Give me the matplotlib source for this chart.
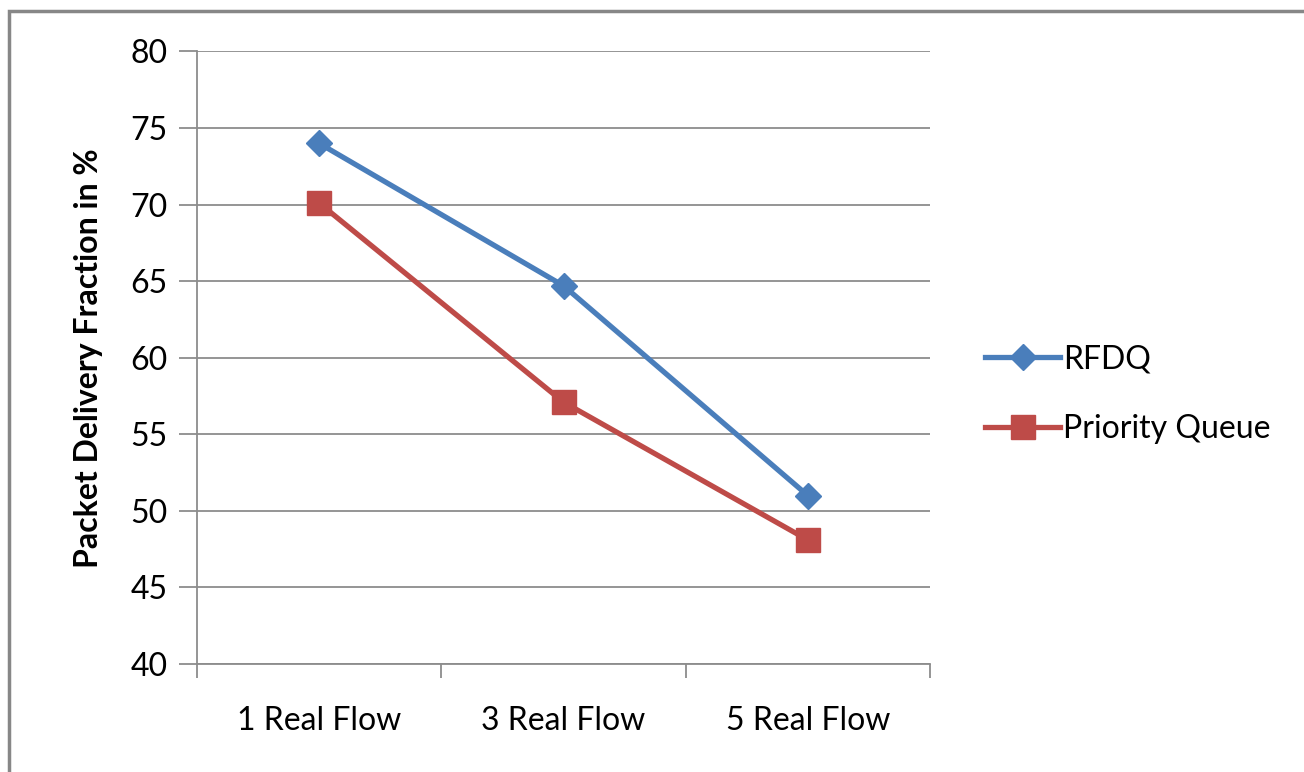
import matplotlib
matplotlib.use('Agg')
import matplotlib.pyplot as plt
from matplotlib.patches import Rectangle

categories = ['1 Real Flow', '3 Real Flow', '5 Real Flow']
rfdq = [74.0, 64.7, 51.0]
priority_queue = [70.1, 57.1, 48.1]
y_ticks = [40, 45, 50, 55, 60, 65, 70, 75, 80]

plt.rcParams['font.family'] = ['Lato', 'DejaVu Sans']

fig = plt.figure(figsize=(13.04, 7.72), dpi=100)
ax = fig.add_axes([0.1511, 0.1399, 0.7132 - 0.1511, 0.9333 - 0.1399])

x = list(range(len(categories)))
ax.plot(x, rfdq, color='#4A7EBB', lw=3.8, marker='D', markersize=13, label='RFDQ')
ax.plot(x, priority_queue, color='#BE4B48', lw=3.8, marker='s', markersize=17, label='Priority Queue')

ax.set_xlim(-0.5, 2.5)
ax.set_ylim(40, 80)
ax.set_yticks(y_ticks)
ax.yaxis.grid(True, color='#8c8c8c', lw=1.3)
ax.set_axisbelow(True)

ax.set_xticks(x)
ax.set_xticklabels(categories, fontsize=23)
ax.set_xticks([-0.5, 0.5, 1.5, 2.5], minor=True)
ax.tick_params(axis='x', which='major', length=0, pad=30)
ax.tick_params(axis='x', which='minor', length=10, width=1.3, color='#8c8c8c')
ax.tick_params(axis='y', length=13, width=1.3, color='#8c8c8c', labelsize=23, pad=8)

for s in ['top', 'right']:
    ax.spines[s].set_visible(False)
for s in ['left', 'bottom']:
    ax.spines[s].set_color('#8c8c8c')
    ax.spines[s].set_linewidth(1.3)

ax.set_ylabel('Packet Delivery Fraction in %', fontsize=23, fontweight='bold', labelpad=20)

fig.legend(loc='center left', bbox_to_anchor=(0.7554, 0.489), frameon=False,
           fontsize=23, handlelength=2.35, handletextpad=0.1, labelspacing=1.25,
           borderpad=0, borderaxespad=0)

# outer chart frame
fig.patches.append(Rectangle((9 / 1304, -0.1), 1.2, (772 - 11) / 772 + 0.1,
                             transform=fig.transFigure, fill=False,
                             edgecolor='#878787', lw=2.5))

fig.savefig('out.png', dpi=100)
